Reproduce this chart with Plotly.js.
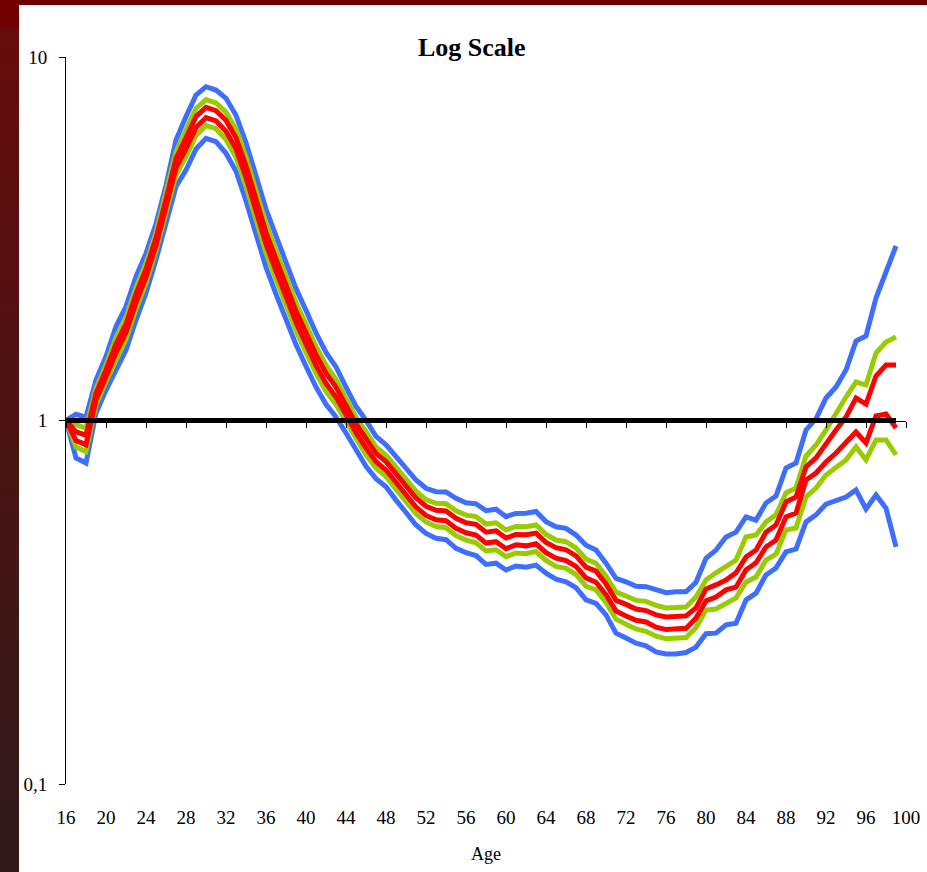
<!DOCTYPE html>
<html>
<head>
<meta charset="utf-8">
<script src="https://cdn.plot.ly/plotly-3.0.1.min.js"></script>
<style>
  html, body { margin: 0; padding: 0; background: #ffffff; }
  #wrap { position: relative; width: 927px; height: 872px; overflow: hidden; }
  #chart { position: absolute; left: 0; top: 0; width: 927px; height: 872px; }
  #topband { position: absolute; left: 0; top: 0; width: 927px; height: 5px; background: #6e0000; z-index: 5; }
  #leftband { position: absolute; left: 0; top: 0; width: 19px; height: 872px; z-index: 5;
              background: linear-gradient(to bottom, #720000 0px, #720000 27px, #660c0c 28px, #4a1414 450px, #2e1a1a 872px); }
</style>
</head>
<body>
<div id="wrap">
  <div id="chart"></div>
  <div id="topband"></div>
  <div id="leftband"></div>
</div>
<script>
// Age categories
const ages = [16,17,18,19,20,21,22,23,24,25,26,27,28,29,30,31,32,33,34,35,36,37,38,39,40,
              41,42,43,44,45,46,47,48,49,50,51,52,53,54,55,56,57,58,59,60,61,62,63,64,65,
              66,67,68,69,70,71,72,73,74,75,76,77,78,79,80,81,82,83,84,85,86,87,88,89,90,
              91,92,93,94,95,96,97,98,99];

// Outer band (blue) upper
const blueUpper = [1.000,1.040,1.022,1.292,1.499,1.813,2.057,2.489,2.882,3.479,4.436,5.911,6.855,7.861,8.285,
  8.113,7.697,6.912,5.812,4.706,3.811,3.218,2.717,2.305,2.009,1.741,1.540,1.404,1.236,1.094,1.001,0.904,0.857,
  0.796,0.731,0.686,0.651,0.637,0.636,0.611,0.594,0.590,0.565,0.570,0.544,0.555,0.556,0.562,0.527,0.510,0.505,
  0.484,0.454,0.440,0.405,0.368,0.360,0.350,0.349,0.342,0.336,0.338,0.338,0.359,0.418,0.440,0.478,0.493,0.543,
  0.532,0.593,0.620,0.740,0.764,0.942,1.010,1.153,1.236,1.377,1.654,1.708,2.173,2.578,3.020];

// Middle band (green) upper
const greenUpper = [1.000,0.971,0.951,1.227,1.422,1.692,1.920,2.323,2.707,3.287,4.192,5.492,6.300,7.216,7.635,
  7.477,7.056,6.326,5.302,4.293,3.476,2.936,2.479,2.110,1.839,1.598,1.419,1.297,1.150,1.020,0.931,0.846,0.802,
  0.743,0.682,0.639,0.606,0.592,0.590,0.564,0.549,0.544,0.519,0.523,0.500,0.511,0.510,0.516,0.486,0.469,0.464,
  0.446,0.416,0.405,0.373,0.337,0.329,0.320,0.318,0.310,0.305,0.306,0.307,0.327,0.364,0.381,0.395,0.413,0.478,
  0.484,0.526,0.550,0.632,0.652,0.798,0.856,0.942,1.049,1.160,1.276,1.252,1.533,1.644,1.697];

// Inner band (red) upper
const redUpper = [1.000,0.931,0.911,1.189,1.377,1.624,1.843,2.229,2.607,3.176,4.050,5.253,5.988,6.858,7.271,
  7.120,6.696,5.998,5.017,4.063,3.289,2.778,2.346,2.000,1.743,1.518,1.350,1.236,1.100,0.979,0.891,0.812,0.771,
  0.713,0.655,0.612,0.581,0.566,0.564,0.538,0.523,0.518,0.493,0.497,0.475,0.486,0.485,0.490,0.462,0.447,0.441,
  0.424,0.395,0.385,0.355,0.320,0.312,0.303,0.300,0.292,0.288,0.289,0.290,0.305,0.344,0.353,0.364,0.381,0.421,
  0.440,0.493,0.516,0.597,0.616,0.745,0.789,0.867,0.942,1.022,1.153,1.110,1.326,1.421,1.421];

// Inner band (red) lower
const redLower = [1.000,0.881,0.858,1.140,1.320,1.537,1.745,2.110,2.480,3.034,3.869,4.952,5.597,6.401,6.808,
  6.668,6.248,5.588,4.662,3.774,3.056,2.581,2.180,1.863,1.624,1.418,1.264,1.160,1.038,0.926,0.841,0.770,0.731,
  0.675,0.620,0.578,0.548,0.533,0.530,0.505,0.491,0.484,0.460,0.464,0.444,0.455,0.452,0.458,0.433,0.418,0.412,
  0.397,0.369,0.359,0.332,0.299,0.290,0.282,0.279,0.270,0.266,0.267,0.268,0.286,0.319,0.327,0.342,0.348,0.388,
  0.406,0.449,0.469,0.543,0.556,0.686,0.717,0.769,0.814,0.867,0.930,0.867,1.029,1.042,0.954];

// Middle band (green) lower
const greenLower = [1.000,0.845,0.821,1.105,1.279,1.475,1.674,2.025,2.388,2.932,3.739,4.739,5.319,6.083,6.483,
  6.349,5.930,5.297,4.412,3.572,2.892,2.443,2.063,1.767,1.540,1.347,1.203,1.107,0.994,0.888,0.805,0.740,0.702,
  0.647,0.595,0.554,0.526,0.511,0.507,0.482,0.469,0.461,0.438,0.441,0.422,0.432,0.430,0.436,0.412,0.397,0.392,
  0.377,0.350,0.342,0.316,0.284,0.275,0.267,0.263,0.255,0.251,0.252,0.253,0.269,0.301,0.303,0.315,0.325,0.359,
  0.371,0.413,0.429,0.500,0.506,0.616,0.652,0.708,0.740,0.779,0.846,0.779,0.884,0.884,0.804];

// Outer band (blue) lower
const blueLower = [1.000,0.789,0.764,1.048,1.213,1.377,1.563,1.890,2.243,2.770,3.532,4.401,4.889,5.584,5.974,
  5.850,5.435,4.849,4.025,3.258,2.639,2.228,1.882,1.617,1.410,1.236,1.108,1.022,0.924,0.828,0.748,0.692,0.657,
  0.604,0.555,0.516,0.489,0.474,0.470,0.445,0.433,0.425,0.402,0.405,0.388,0.398,0.395,0.400,0.380,0.366,0.360,
  0.347,0.321,0.314,0.292,0.260,0.252,0.244,0.240,0.231,0.228,0.228,0.230,0.238,0.259,0.260,0.274,0.277,0.321,
  0.335,0.376,0.393,0.435,0.443,0.526,0.550,0.589,0.604,0.616,0.644,0.571,0.624,0.574,0.449];

// Reference level
const referenceLevel = 1;

// Axis tick labels
const xTickVals = [16,20,24,28,32,36,40,44,48,52,56,60,64,68,72,76,80,84,88,92,96,100];
const yTickVals = [0.1, 1, 10];
const yTickText = ['0,1', '1', '10'];

const BLUE = '#3D6EFF', GREEN = '#99CC00', RED = '#FF0000';
const LW = 5;
const FONT = 'Liberation Serif, Times New Roman, serif';

function line(y, color, name) {
  return { x: ages, y: y, type: 'scatter', mode: 'lines', name: name,
           line: { color: color, width: LW }, hoverinfo: 'skip' };
}

const traces = [
  line(blueUpper, BLUE, 'Blue upper'),
  line(blueLower, BLUE, 'Blue lower'),
  line(greenUpper, GREEN, 'Green upper'),
  line(greenLower, GREEN, 'Green lower'),
  line(redUpper, RED, 'Red upper'),
  line(redLower, RED, 'Red lower'),
  { x: ages, y: ages.map(() => referenceLevel), type: 'scatter', mode: 'lines', name: 'Reference',
    line: { color: '#000000', width: LW }, hoverinfo: 'skip' }
];

const layout = {
  width: 927, height: 872,
  margin: { l: 66, r: 21, t: 57, b: 88 },
  paper_bgcolor: 'rgba(0,0,0,0)',
  plot_bgcolor: 'rgba(0,0,0,0)',
  showlegend: false,
  hovermode: false,
  font: { family: FONT, color: '#000000', size: 19 },
  title: { text: '<b>Log Scale</b>', font: { family: FONT, size: 26, color: '#000000' },
           x: 0.509, xref: 'container', xanchor: 'center',
           y: 1 - 47 / 872, yref: 'container', yanchor: 'middle' },
  xaxis: {
    range: [16, 100], tickvals: xTickVals, ticks: '', showline: false, showgrid: false, zeroline: false,
    tickfont: { family: FONT, size: 19, color: '#000000' }, ticklabelstandoff: 20,
    title: { text: 'Age', font: { family: FONT, size: 18, color: '#000000' }, standoff: 20 }
  },
  xaxis2: {
    range: [16, 100], tickvals: xTickVals, overlaying: 'x', anchor: 'free', position: 0.5, side: 'bottom',
    showticklabels: false, ticks: 'outside', ticklen: 6, tickwidth: 1, tickcolor: '#000000',
    showline: true, linecolor: '#000000', linewidth: 1, showgrid: false, zeroline: false
  },
  yaxis: {
    type: 'log', range: [-1, 1], tickvals: yTickVals, ticktext: yTickText,
    ticks: 'outside', ticklen: 6, tickwidth: 1, tickcolor: '#000000',
    showline: true, linecolor: '#000000', linewidth: 1, showgrid: false, zeroline: false,
    tickfont: { family: FONT, size: 19, color: '#000000' }, ticklabelstandoff: 8
  }
};

// attach an invisible trace to xaxis2 so it renders
traces.push({ x: [xTickVals[0]], y: [referenceLevel], xaxis: 'x2', yaxis: 'y', type: 'scatter', mode: 'markers',
              marker: { opacity: 0 }, hoverinfo: 'skip', showlegend: false });

Plotly.newPlot('chart', traces, layout, { displayModeBar: false, staticPlot: true });
</script>
</body>
</html>
